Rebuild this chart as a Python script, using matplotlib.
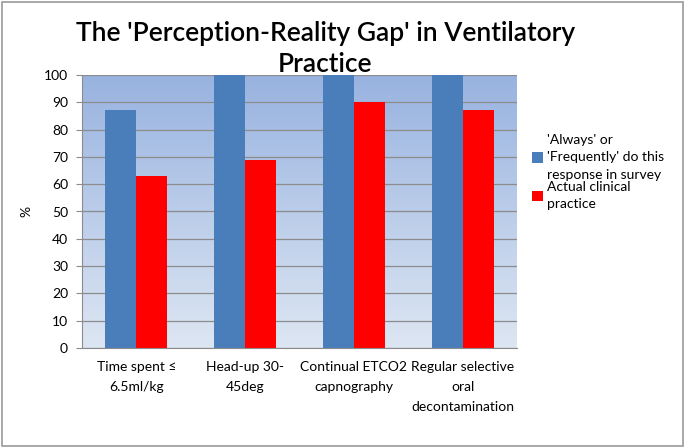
import numpy as np
import matplotlib
matplotlib.use("Agg")
import matplotlib.pyplot as plt
from matplotlib.patches import Rectangle

categories = ["Time spent \u2264\n6.5ml/kg", "Head-up 30-\n45deg",
              "Continual ETCO2\ncapnography", "Regular selective\noral\ndecontamination"]
survey = [87, 100, 100, 100]
actual = [63, 69, 90, 87]
legend_labels = ["'Always' or\n'Frequently' do this\nresponse in survey",
                 "Actual clinical\npractice"]

plt.rcParams['font.family'] = ['Lato', 'DejaVu Sans']

fig = plt.figure(figsize=(6.85, 4.48), dpi=100)
fig.patches.append(Rectangle((0.003, 0.004), 0.994, 0.992, transform=fig.transFigure,
                             fill=False, edgecolor='#9a9a9a', linewidth=1.2))
ax = fig.add_axes([82/685, 1 - 348/448, 435/685, 273/448])

# gradient background
grad = np.linspace(0, 1, 256).reshape(-1, 1)
cmap = matplotlib.colors.LinearSegmentedColormap.from_list('bg', ['#dde6f3', '#98b3e0'])
ax.imshow(grad, aspect='auto', cmap=cmap, origin='lower',
          extent=[-0.5, 3.5, 0, 100], zorder=0)

x = np.arange(len(categories))
w = 0.285
ax.set_axisbelow(True)
ax.yaxis.grid(True, color='#8c8c8c', linewidth=0.9, zorder=1)
ax.bar(x - w/2, survey, w, color='#4a7ebb', label=legend_labels[0], zorder=2)
ax.bar(x + w/2, actual, w, color='#ff0000', label=legend_labels[1], zorder=2)

ax.set_xlim(-0.5, 3.5)
ax.set_ylim(0, 100)
ax.set_yticks(range(0, 101, 10))
ax.set_xticks(x)
ax.set_xticklabels(categories, fontsize=10, linespacing=1.8)
ax.tick_params(axis='y', labelsize=10, length=4, color='#8c8c8c', pad=6)
ax.tick_params(axis='x', length=0, pad=9)
for s in ['top', 'right']:
    ax.spines[s].set_visible(False)
ax.spines['left'].set_color('#8c8c8c')
ax.spines['bottom'].set_color('#8c8c8c')
ax.set_ylabel('%', fontsize=10, labelpad=2)
ax.yaxis.set_label_coords(-0.115, 0.5)

fig.text(0.475, 1 - 33/448, "The 'Perception-Reality Gap' in Ventilatory",
         ha='center', va='center', fontsize=19, fontweight='semibold')
fig.text(0.475, 1 - 64/448, "Practice",
         ha='center', va='center', fontsize=19, fontweight='semibold')

leg = ax.legend(loc='upper left', bbox_to_anchor=(1.005, 0.83), frameon=False,
                fontsize=10, handlelength=0.8, handleheight=0.8,
                handletextpad=0.3, labelspacing=0.0)
for t in leg.get_texts():
    t.set_linespacing(1.55)

fig.savefig('out.png', dpi=100)
